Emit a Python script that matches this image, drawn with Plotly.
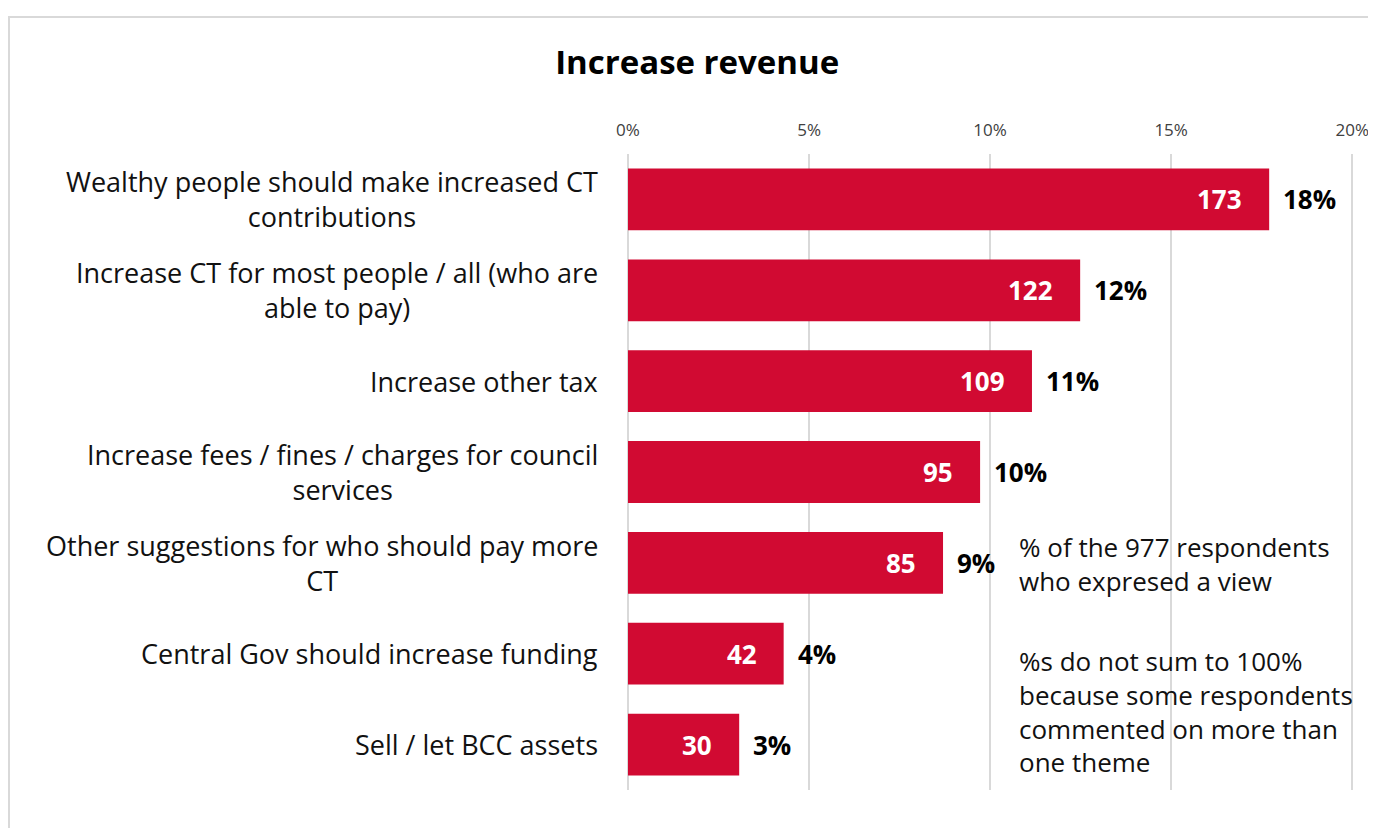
import plotly.graph_objects as go

# Data
categories = [
    "Wealthy people should make increased CT<br>contributions",
    "Increase CT for most people / all (who are<br>able to pay)",
    "Increase other tax",
    "Increase fees / fines / charges for council<br>services",
    "Other suggestions for who should pay more<br>CT",
    "Central Gov should increase funding",
    "Sell / let BCC assets",
]
counts = [173, 122, 109, 95, 85, 42, 30]
total_respondents = 977
pct_labels = ["18%", "12%", "11%", "10%", "9%", "4%", "3%"]
tick_vals = [0, 5, 10, 15, 20]
tick_text = ["0%", "5%", "10%", "15%", "20%"]

RED = "#D10A32"
FONT = "Open Sans"

W, H = 1366, 820
L, R, T, B = 620, 20, 146, 38


def main():
    shares = [c / total_respondents * 100 for c in counts]

    fig = go.Figure()
    fig.add_trace(go.Bar(
        x=shares,
        y=categories,
        orientation="h",
        marker=dict(color=RED, line=dict(width=0)),
        hoverinfo="skip",
    ))

    annotations = []
    for cat, share, n, pct in zip(categories, shares, counts, pct_labels):
        # count inside bar end
        annotations.append(dict(
            x=share, y=cat, xref="x", yref="y", text=f"<b>{n}</b>",
            showarrow=False, xanchor="right", xshift=-25,
            font=dict(family=FONT, size=26, color="white"),
        ))
        # percentage outside
        annotations.append(dict(
            x=share, y=cat, xref="x", yref="y", text=f"<b>{pct}</b>",
            showarrow=False, xanchor="left", xshift=12,
            font=dict(family=FONT, size=26, color="black"),
        ))
        # category label, centered lines
        annotations.append(dict(
            x=0, y=cat, xref="paper", yref="y", text=cat,
            showarrow=False, xanchor="right", align="center", xshift=-28,
            font=dict(family=FONT, size=27, color="#111111"),
        ))

    # side note
    annotations.append(dict(
        x=10.75, y=0.3553, xref="x", yref="paper",
        text="% of the 977 respondents<br>who expresed a view",
        showarrow=False, xanchor="left", yanchor="middle", align="left",
        font=dict(family=FONT, size=26, color="#111111"),
    ))
    annotations.append(dict(
        x=10.75, y=0.1242, xref="x", yref="paper",
        text="%s do not sum to 100%<br>because some respondents<br>commented on more than<br>one theme",
        showarrow=False, xanchor="left", yanchor="middle", align="left",
        font=dict(family=FONT, size=26, color="#111111"),
    ))

    plot_w = W - L - R
    plot_h = H - T - B

    fig.update_layout(
        width=W,
        height=H,
        margin=dict(l=L, r=R, t=T, b=B, autoexpand=False),
        paper_bgcolor="white",
        plot_bgcolor="white",
        showlegend=False,
        bargap=0.32,
        title=dict(
            text="<b>Increase revenue</b>",
            xref="paper", x=0.0953, xanchor="center",
            yref="container", y=1 - 54 / H, yanchor="middle",
            font=dict(family=FONT, size=33, color="black"),
        ),
        xaxis=dict(
            side="top",
            range=[0, 20.05],
            tickvals=tick_vals,
            ticktext=tick_text,
            tickfont=dict(family=FONT, size=17, color="#404040"),
            ticks="",
            ticklabelstandoff=14,
            ticklabeloverflow="allow",
            automargin=False,
            showgrid=True,
            gridcolor="#D9D9D9",
            gridwidth=2,
            zeroline=True,
            zerolinecolor="#D9D9D9",
            zerolinewidth=2,
            showline=False,
            fixedrange=True,
        ),
        yaxis=dict(
            autorange="reversed",
            showticklabels=False,
            automargin=False,
            showgrid=False,
            zeroline=False,
            showline=False,
            ticks="",
            fixedrange=True,
        ),
        annotations=annotations,
        shapes=[dict(
            type="rect", xref="paper", yref="paper",
            x0=(1 - L) / plot_w, x1=1.1,
            y0=-0.2, y1=1 + (T - 9) / plot_h,
            line=dict(color="#D9D9D9", width=2),
            fillcolor="rgba(0,0,0,0)", layer="below",
        )],
    )

    fig.write_html("out.html")


if __name__ == "__main__":
    main()
